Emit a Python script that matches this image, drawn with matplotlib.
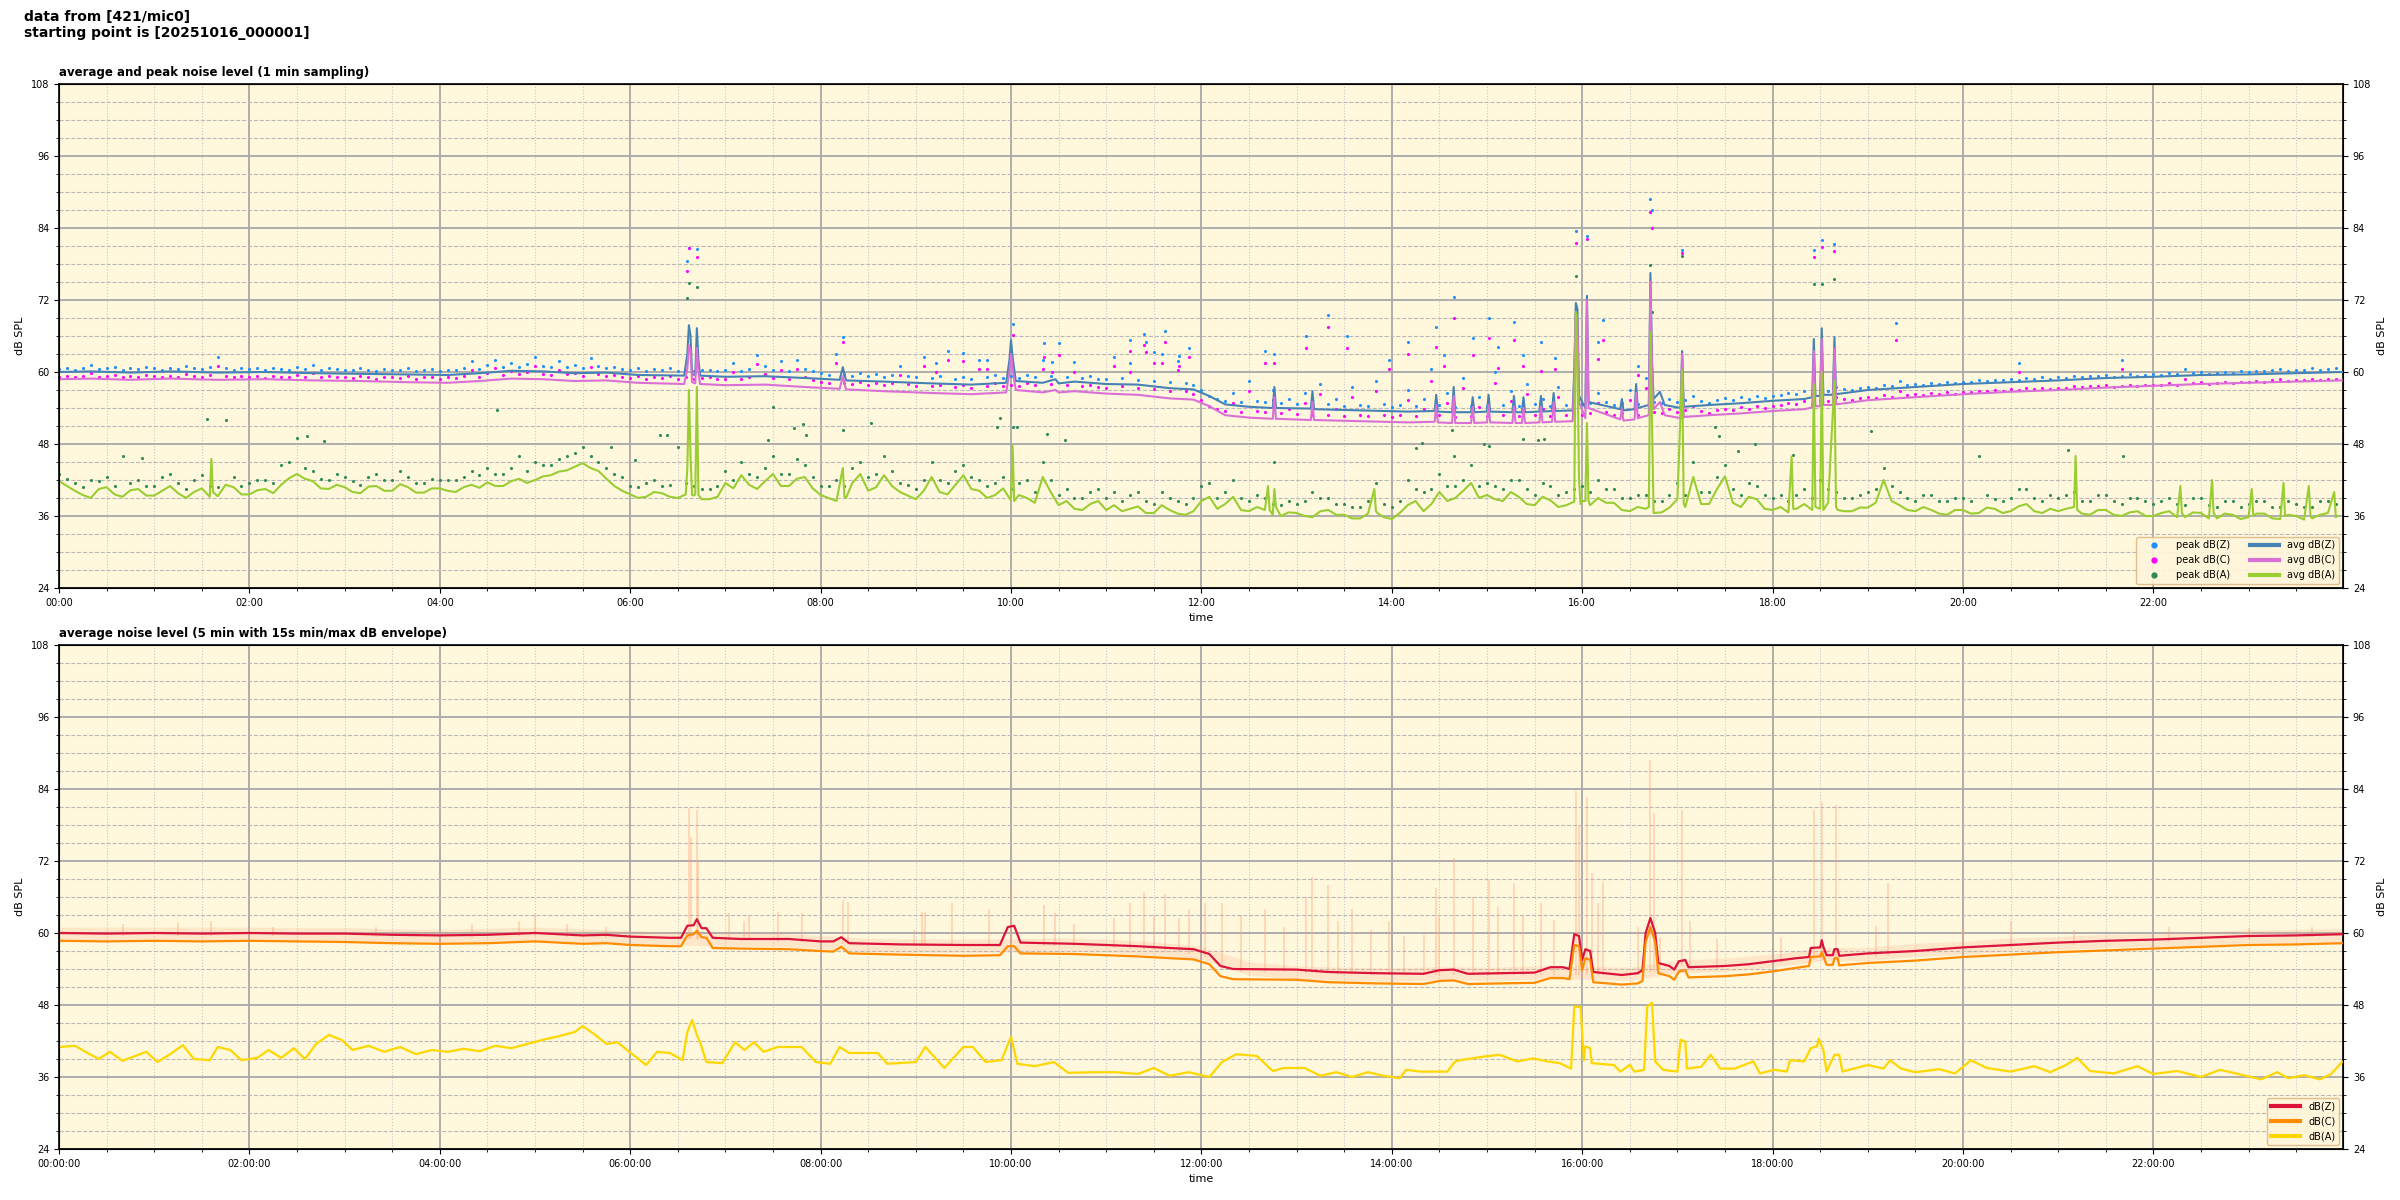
import datetime as dt
import numpy as np
import matplotlib
matplotlib.use('Agg')
import matplotlib.pyplot as plt
import matplotlib.dates as mdates
from matplotlib.ticker import MultipleLocator
from matplotlib.lines import Line2D

plt.rcParams['font.family'] = ['Liberation Sans Narrow', 'DejaVu Sans']

day0 = dt.datetime(2025, 10, 16)

# ---------------- top panel: 1 min averages (minutes from midnight) ----------
top_min = [0, 20, 45, 70, 100, 130, 160, 190, 220, 245,
           265, 285, 305, 325, 345, 365, 394, 396, 397, 398,
           399, 401, 402, 403, 404, 420, 445, 470, 492, 494,
           496, 520, 550, 575, 597, 599, 600, 601, 603, 620,
           628, 630, 640, 660, 680, 700, 715, 725, 735, 750,
           765, 766, 767, 789, 790, 791, 820, 850, 867, 868,
           869, 878, 879, 880, 890, 891, 892, 900, 901, 902,
           916, 917, 918, 922, 923, 924, 933, 934, 935, 941,
           942, 943, 954, 955, 956, 957, 958, 962, 963, 964,
           984, 985, 986, 993, 994, 995, 1002, 1003, 1004, 1005,
           1009, 1012, 1022, 1023, 1024, 1040, 1060, 1080, 1100, 1105,
           1106, 1107, 1110, 1111, 1112, 1118, 1119, 1120, 1140, 1170,
           1200, 1230, 1260, 1290, 1320, 1350, 1380, 1410, 1439]
avg_z = [60.0, 60.1, 59.9, 60.1, 59.9, 60.0, 59.8, 59.7, 59.6, 59.5,
         59.8, 60.2, 60.1, 59.8, 59.9, 59.5, 59.4, 63.0, 67.8, 66.0,
         59.6, 59.5, 67.3, 62.0, 59.4, 59.2, 59.3, 59.0, 58.7, 60.8,
         58.6, 58.4, 58.1, 57.9, 58.2, 62.0, 65.3, 62.5, 58.5, 58.2,
         58.8, 58.1, 58.4, 58.0, 57.9, 57.3, 57.1, 56.0, 54.6, 54.2,
         54.0, 57.5, 54.0, 53.9, 56.8, 53.8, 53.6, 53.4, 53.5, 56.2,
         53.4, 53.3, 57.5, 53.3, 53.3, 55.8, 53.3, 53.4, 56.2, 53.4,
         53.3, 56.0, 53.3, 53.3, 55.8, 53.3, 53.4, 56.0, 53.4, 53.5,
         56.5, 53.5, 53.6, 60.0, 71.5, 70.5, 56.0, 54.0, 72.7, 55.0,
         53.8, 55.5, 53.6, 53.8, 58.0, 54.0, 54.5, 76.5, 62.0, 55.5,
         56.7, 54.5, 54.0, 63.5, 54.2, 54.5, 54.8, 55.2, 55.5, 55.8,
         65.5, 56.0, 56.0, 67.3, 56.2, 56.2, 65.8, 56.3, 57.0, 57.5,
         58.0, 58.3, 58.6, 59.0, 59.2, 59.5, 59.6, 59.8, 60.0]
avg_c = [58.8, 58.9, 58.7, 58.9, 58.7, 58.8, 58.6, 58.5, 58.3, 58.2,
         58.5, 58.9, 58.8, 58.5, 58.6, 58.2, 58.0, 60.5, 64.5, 63.5,
         58.3, 58.1, 64.0, 60.0, 58.0, 57.8, 57.9, 57.5, 57.2, 59.3,
         57.1, 56.8, 56.5, 56.3, 56.6, 60.0, 63.0, 60.5, 57.0, 56.6,
         57.0, 56.6, 56.8, 56.4, 56.2, 55.6, 55.4, 54.3, 52.8, 52.4,
         52.2, 55.8, 52.2, 52.0, 55.0, 52.0, 51.8, 51.6, 51.7, 54.5,
         51.6, 51.5, 56.0, 51.5, 51.5, 54.2, 51.5, 51.6, 54.5, 51.6,
         51.5, 54.3, 51.5, 51.5, 54.0, 51.5, 51.6, 54.3, 51.6, 51.7,
         55.0, 51.7, 51.8, 59.0, 70.0, 69.0, 55.0, 52.3, 72.0, 54.0,
         52.1, 53.8, 51.9, 52.1, 56.5, 52.3, 52.8, 75.0, 61.0, 53.8,
         55.0, 52.8, 52.3, 63.0, 52.5, 52.8, 53.1, 53.5, 53.8, 54.1,
         63.5, 54.3, 54.3, 65.5, 54.5, 54.5, 64.0, 54.6, 55.3, 55.8,
         56.3, 56.7, 57.0, 57.4, 57.7, 58.0, 58.2, 58.4, 58.6]

# avg dB(A), one value every 5 minutes (one row per hour)
avg_a = [41.8, 41.0, 40.2, 39.5, 39.0, 40.5, 40.8, 39.6, 39.2, 40.3, 40.5, 39.4,
         39.4, 40.2, 41.0, 39.8, 39.0, 40.0, 40.6, 39.2, 39.3, 41.2, 40.8, 39.6,
         39.6, 40.3, 40.5, 39.8, 41.2, 42.3, 43.0, 42.2, 41.8, 40.6, 40.5, 41.2,
         40.8, 40.0, 39.8, 40.9, 41.0, 40.2, 40.2, 41.3, 40.8, 39.9, 39.9, 40.6,
         40.6, 40.2, 40.0, 40.8, 41.2, 40.7, 41.6, 41.0, 41.0, 41.8, 42.2, 41.5,
         42.0, 42.6, 42.8, 43.4, 43.6, 44.2, 44.8, 44.0, 43.5, 42.2, 41.0, 40.2,
         39.6, 39.0, 39.2, 40.0, 39.8, 39.2, 39.0, 39.6, 39.4, 38.8, 38.8, 39.2,
         41.5, 40.6, 42.8, 41.2, 40.5, 41.8, 43.0, 41.0, 41.0, 42.2, 42.5, 40.6,
         39.5, 39.0, 38.5, 39.2, 41.5, 43.0, 40.2, 40.8, 42.8, 41.0, 40.0, 39.4,
         38.8, 40.2, 42.5, 40.0, 39.6, 41.2, 42.8, 40.5, 40.2, 39.0, 39.5, 40.6,
         38.6, 39.5, 39.0, 38.2, 42.5, 40.0, 37.8, 38.5, 37.2, 37.0, 38.0, 38.5,
         37.0, 37.8, 36.8, 37.2, 37.6, 36.5, 36.5, 37.8, 37.0, 36.4, 36.2, 36.8,
         38.5, 39.2, 37.2, 38.0, 39.2, 37.0, 36.8, 37.5, 37.0, 36.2, 36.0, 36.6,
         36.5, 36.0, 35.8, 36.8, 37.0, 36.2, 36.2, 35.6, 35.6, 36.4, 36.8, 35.8,
         35.5, 36.5, 37.8, 38.5, 36.8, 38.0, 40.0, 38.5, 39.0, 40.2, 41.5, 39.0,
         39.5, 38.8, 38.5, 40.0, 39.2, 38.0, 37.8, 39.2, 38.6, 37.5, 37.8, 38.4,
         38.5, 37.8, 39.0, 38.2, 38.2, 37.0, 36.8, 37.5, 37.2, 36.5, 36.6, 37.4,
         38.8, 37.5, 42.5, 38.0, 38.0, 40.5, 42.6, 38.2, 37.5, 39.2, 38.8, 37.2,
         37.0, 37.5, 36.6, 37.2, 38.0, 37.0, 37.2, 38.2, 37.5, 36.8, 36.8, 37.4,
         37.4, 38.2, 42.0, 38.5, 37.8, 37.0, 36.8, 37.5, 37.0, 36.4, 36.2, 37.0,
         37.0, 36.4, 36.5, 37.4, 37.2, 36.5, 36.8, 37.6, 38.0, 36.8, 36.5, 37.2,
         36.8, 37.2, 37.5, 36.4, 36.2, 37.0, 37.0, 36.2, 36.0, 36.6, 36.8, 36.0,
         36.0, 36.5, 36.8, 35.8, 35.8, 36.6, 36.5, 35.6, 35.6, 36.4, 36.2, 35.5,
         35.8, 36.4, 36.4, 35.6, 35.5, 36.2, 36.0, 35.4, 35.6, 36.2, 36.5, 35.8]
# short events in avg dB(A) between the 5 min values
a_spk_min = [96, 97, 396, 397, 398, 399, 401, 402, 403, 494,
             496, 601, 602, 762, 763, 766, 767, 829, 831, 956,
             957, 958, 959, 962, 963, 964, 1002, 1003, 1004, 1023,
             1024, 1092, 1093, 1106, 1107, 1111, 1112, 1119, 1121, 1271,
             1272, 1337, 1338, 1357, 1358, 1382, 1383, 1402, 1403, 1418,
             1419, 1434, 1436]
a_spk_db = [45.5, 40.0, 44.0, 57.0, 46.0, 39.5, 39.6, 57.5, 39.5, 44.0,
            39.0, 47.7, 38.5, 41.0, 37.0, 40.5, 37.5, 40.5, 36.5, 70.0,
            62.0, 42.0, 38.0, 38.5, 51.5, 38.5, 37.5, 66.7, 52.0, 60.3,
            38.0, 45.9, 37.2, 58.0, 37.5, 60.0, 37.0, 58.5, 37.0, 46.0,
            37.0, 41.0, 36.5, 42.0, 36.5, 40.5, 36.0, 41.5, 36.0, 41.0,
            36.0, 40.0, 36.0]

# peak values, one every 5 minutes (one row per hour)
peak_z = [60.5, 60.7, 60.4, 60.6, 61.2, 60.5, 60.6, 60.8, 60.4, 60.6, 60.5, 60.9,
          60.6, 60.4, 60.7, 60.5, 61.0, 60.6, 60.5, 60.8, 62.5, 60.6, 60.4, 60.7,
          60.5, 60.6, 60.3, 60.7, 60.5, 60.4, 60.8, 60.5, 61.2, 60.4, 60.6, 60.5,
          60.4, 60.3, 60.6, 60.4, 60.2, 60.5, 60.4, 60.3, 60.6, 60.2, 60.4, 60.5,
          60.2, 60.4, 60.3, 60.6, 61.8, 60.5, 61.2, 62.0, 60.8, 61.5, 60.9, 61.3,
          62.5, 61.0, 60.8, 61.8, 60.9, 61.2, 60.7, 62.3, 61.0, 60.6, 60.8, 60.5,
          60.4, 60.6, 60.2, 60.5, 60.3, 60.6, 60.2, 60.4, 60.1, 60.3, 60.4, 60.2,
          60.3, 61.5, 60.2, 60.5, 62.8, 61.0, 60.4, 61.8, 60.2, 62.0, 60.5, 60.1,
          59.8, 59.5, 63.0, 59.6, 59.4, 59.8, 59.3, 59.6, 59.2, 59.5, 61.0, 59.4,
          59.1, 62.5, 59.0, 59.3, 63.5, 58.9, 59.2, 58.8, 62.0, 59.1, 59.5, 59.0,
          59.3, 59.0, 59.5, 59.2, 62.0, 59.4, 64.8, 59.2, 61.7, 59.0, 59.3, 58.9,
          58.8, 62.5, 59.0, 61.5, 58.7, 65.0, 58.5, 63.0, 58.3, 61.8, 58.2, 57.8,
          57.0, 56.0, 55.5, 55.2, 56.5, 55.0, 58.5, 55.2, 55.0, 57.0, 54.8, 55.5,
          54.7, 56.5, 54.5, 58.0, 54.6, 55.5, 54.4, 57.5, 54.5, 54.3, 58.5, 54.6,
          54.2, 54.5, 57.0, 54.3, 55.5, 60.5, 54.5, 56.5, 54.2, 59.0, 54.4, 55.8,
          54.3, 60.0, 54.5, 56.8, 54.3, 58.0, 54.6, 55.5, 54.4, 57.5, 54.5, 55.0,
          54.6, 54.8, 56.5, 55.0, 54.5, 54.8, 57.0, 54.6, 59.0, 55.0, 54.8, 55.5,
          55.0, 55.3, 56.0, 55.2, 54.9, 55.4, 55.6, 55.3, 55.8, 55.5, 56.0, 55.7,
          56.0, 56.2, 56.5, 56.3, 56.8, 56.4, 57.0, 56.8, 57.5, 57.2, 57.0, 57.3,
          57.5, 57.4, 57.8, 57.6, 58.5, 57.8, 58.0, 57.9, 58.2, 58.0, 58.3, 58.1,
          58.4, 58.3, 58.6, 58.5, 58.7, 58.6, 58.8, 58.7, 59.0, 58.8, 59.1, 58.9,
          59.1, 59.0, 59.3, 59.2, 59.4, 59.3, 59.5, 59.2, 59.4, 59.6, 59.3, 59.5,
          59.6, 59.5, 59.8, 59.6, 60.5, 59.8, 60.0, 59.7, 59.9, 60.0, 59.8, 60.1,
          60.0, 60.2, 60.1, 60.3, 60.5, 60.2, 60.4, 60.3, 60.6, 60.4, 60.5, 60.6]
peak_c = [59.2, 59.4, 59.1, 59.3, 59.8, 59.2, 59.3, 59.5, 59.1, 59.3, 59.2, 59.5,
          59.3, 59.1, 59.4, 59.2, 59.6, 59.3, 59.2, 59.5, 61.0, 59.3, 59.1, 59.4,
          59.2, 59.3, 59.0, 59.4, 59.2, 59.1, 59.5, 59.2, 59.8, 59.1, 59.3, 59.2,
          59.1, 59.0, 59.3, 59.1, 58.9, 59.2, 59.1, 59.0, 59.3, 58.9, 59.1, 59.2,
          58.9, 59.1, 59.0, 59.3, 60.4, 59.2, 59.8, 60.6, 59.5, 60.2, 59.6, 60.0,
          61.0, 59.7, 59.5, 60.4, 59.6, 59.9, 59.4, 60.9, 59.7, 59.3, 59.5, 59.2,
          59.0, 59.3, 58.9, 59.2, 59.0, 59.3, 58.9, 59.1, 58.8, 59.0, 59.1, 58.9,
          58.9, 60.0, 58.8, 59.1, 61.3, 59.6, 59.0, 60.4, 58.8, 60.5, 59.1, 58.7,
          58.4, 58.1, 61.5, 58.2, 58.0, 58.4, 57.9, 58.2, 57.8, 58.1, 59.5, 58.0,
          57.7, 61.0, 57.6, 57.9, 62.0, 57.5, 57.8, 57.4, 60.5, 57.7, 58.1, 57.6,
          57.9, 57.6, 58.1, 57.8, 60.5, 58.0, 62.8, 57.8, 60.0, 57.6, 57.9, 57.5,
          57.4, 61.0, 57.6, 60.0, 57.3, 63.3, 57.1, 61.5, 56.9, 60.3, 56.8, 56.3,
          55.4, 54.3, 53.8, 53.5, 54.8, 53.3, 56.8, 53.5, 53.3, 55.3, 53.1, 53.8,
          53.0, 54.8, 52.8, 56.3, 52.9, 53.8, 52.7, 55.8, 52.8, 52.6, 56.8, 52.9,
          52.5, 52.8, 55.3, 52.6, 53.8, 58.5, 52.8, 54.8, 52.5, 57.3, 52.7, 54.1,
          52.6, 58.2, 52.8, 55.1, 52.6, 56.3, 52.9, 53.8, 52.7, 55.8, 52.8, 53.3,
          52.9, 53.1, 54.8, 53.3, 52.8, 53.1, 55.3, 52.9, 57.3, 53.3, 53.1, 53.8,
          53.3, 53.6, 54.3, 53.5, 53.2, 53.7, 53.9, 53.6, 54.1, 53.8, 54.3, 54.0,
          54.3, 54.5, 54.8, 54.6, 55.1, 54.7, 55.3, 55.1, 55.8, 55.5, 55.3, 55.6,
          55.8, 55.7, 56.1, 55.9, 56.8, 56.1, 56.3, 56.2, 56.5, 56.3, 56.6, 56.4,
          56.7, 56.6, 56.9, 56.8, 57.0, 56.9, 57.1, 57.0, 57.3, 57.1, 57.4, 57.2,
          57.4, 57.3, 57.6, 57.5, 57.7, 57.6, 57.8, 57.5, 57.7, 57.9, 57.6, 57.8,
          57.9, 57.8, 58.1, 57.9, 58.8, 58.1, 58.3, 58.0, 58.2, 58.3, 58.1, 58.4,
          58.3, 58.5, 58.4, 58.6, 58.8, 58.5, 58.7, 58.6, 58.9, 58.7, 58.8, 58.9]
peak_a = [43.0, 42.2, 41.5, 40.8, 42.0, 41.8, 42.5, 41.0, 46.0, 41.5, 42.0, 41.0,
          41.0, 42.5, 43.0, 41.5, 40.5, 42.0, 42.8, 41.0, 40.8, 52.0, 42.5, 41.0,
          41.5, 42.0, 42.0, 41.5, 44.5, 45.0, 49.0, 44.0, 43.5, 42.2, 42.0, 43.0,
          42.5, 41.8, 41.2, 42.5, 43.0, 42.0, 42.0, 43.5, 42.5, 41.5, 41.5, 42.2,
          42.0, 42.0, 42.0, 42.5, 43.5, 42.8, 44.0, 43.0, 43.0, 44.0, 46.0, 43.5,
          45.0, 44.5, 44.5, 45.5, 46.0, 46.5, 47.5, 46.0, 45.0, 44.0, 43.0, 42.5,
          41.0, 40.8, 41.5, 42.0, 41.0, 41.2, 47.5, 41.5, 41.0, 40.5, 40.5, 41.0,
          43.5, 42.0, 45.0, 43.0, 42.5, 44.0, 46.0, 43.0, 43.0, 45.5, 44.5, 42.5,
          41.0, 41.0, 42.0, 41.0, 44.0, 45.0, 42.5, 43.0, 46.0, 43.5, 41.5, 41.2,
          40.5, 42.0, 45.0, 42.0, 41.5, 43.5, 44.5, 42.5, 42.0, 41.0, 41.5, 42.5,
          40.5, 41.5, 42.0, 40.0, 45.0, 42.0, 39.5, 40.5, 39.0, 39.0, 40.0, 40.5,
          39.0, 40.0, 38.5, 39.5, 40.0, 38.5, 38.0, 40.0, 39.0, 38.5, 38.0, 39.0,
          41.0, 41.5, 39.0, 40.0, 42.0, 39.0, 38.5, 39.5, 39.0, 38.0, 37.8, 38.5,
          38.0, 38.5, 40.0, 39.0, 39.0, 38.0, 38.0, 37.5, 37.5, 38.5, 41.5, 38.0,
          37.5, 38.5, 42.0, 40.5, 40.0, 40.5, 43.0, 41.0, 41.0, 42.0, 44.5, 41.0,
          41.5, 41.0, 40.5, 42.0, 42.0, 40.5, 39.5, 41.5, 41.0, 39.5, 40.0, 40.5,
          41.0, 40.0, 42.0, 40.5, 40.5, 39.0, 39.0, 39.5, 39.5, 38.5, 38.5, 39.5,
          41.5, 39.5, 45.0, 40.0, 40.0, 42.5, 44.5, 40.5, 39.5, 41.5, 41.0, 39.5,
          39.0, 39.5, 38.5, 39.5, 40.5, 39.0, 42.0, 40.5, 40.0, 39.0, 39.0, 39.5,
          40.0, 40.5, 44.0, 41.0, 40.0, 39.0, 38.5, 39.5, 39.5, 38.5, 38.5, 39.0,
          39.0, 38.5, 46.0, 39.5, 38.8, 38.5, 39.0, 40.5, 40.5, 39.0, 38.5, 39.5,
          39.0, 39.5, 40.0, 38.5, 38.5, 39.5, 39.5, 38.5, 38.0, 39.0, 39.0, 38.5,
          38.0, 38.5, 39.0, 38.0, 37.8, 39.0, 39.0, 37.8, 37.5, 38.5, 38.5, 37.5,
          38.0, 38.5, 38.5, 37.5, 37.5, 38.5, 38.0, 37.5, 37.5, 38.5, 38.5, 38.0]
# peaks at loud events
pk_spk_min = [396, 397, 402, 494, 601, 766, 879, 956, 963, 1003, 1004, 1023, 1106, 1111, 1119]
pz_spk = [78.5, 80.7, 80.5, 65.8, 68.0, 63.0, 72.5, 83.5, 82.7, 88.8, 87.0, 80.3, 80.3, 82.0, 81.3]
pc_spk = [76.8, 80.7, 79.2, 65.0, 66.2, 61.5, 69.0, 81.5, 82.2, 86.7, 84.0, 79.8, 79.2, 80.8, 80.2]
pa_spk = [72.3, 74.8, 74.2, 50.3, 50.8, 45.0, 46.0, 76.0, 60.0, 77.8, 70.0, 79.3, 74.7, 74.7, 75.5]
# other isolated peaks
ext_min = [553, 570, 585, 621, 626, 675, 684, 690, 697, 706, 712, 760, 786, 800, 812, 838,
           850, 868, 873, 891, 901, 907, 917, 923, 934, 943, 970, 973, 995, 1158, 1235, 1300]
ext_z = [61.5, 63.2, 62.0, 64.8, 61.7, 65.4, 66.4, 63.3, 66.9, 62.6, 64.0, 63.5, 66.0, 69.5, 66.0, 62.0,
         65.0, 67.5, 62.8, 65.7, 69.0, 64.2, 68.3, 62.8, 65.0, 62.3, 65.0, 68.7, 61.0, 68.2, 61.5, 62.0]
ext_c = [60.0, 61.8, 60.5, 62.5, 60.0, 63.5, 64.5, 61.5, 65.0, 61.0, 62.5, 61.5, 64.0, 67.5, 64.0, 60.5,
         63.0, 64.2, 61.0, 62.8, 65.7, 60.7, 65.3, 61.0, 60.2, 60.5, 62.1, 65.3, 59.5, 65.3, 60.0, 60.5]
pa_ext_min = [52, 93, 156, 167, 276, 348, 363, 379, 383, 447, 450, 463, 469, 471, 512, 591, 593, 604,
              623, 634, 855, 859, 878, 898, 901, 923, 932, 936, 1044, 1046, 1058, 1069, 1093, 1142, 1266, 1301]
pa_ext = [45.7, 52.1, 49.3, 48.5, 53.7, 47.5, 45.3, 49.5, 49.5, 48.7, 54.2, 50.7, 51.4, 49.5, 51.5, 50.8, 52.4, 50.8,
          49.7, 48.7, 47.3, 48.1, 50.3, 48.0, 47.7, 48.8, 48.6, 48.9, 50.8, 49.4, 46.8, 48.0, 46.2, 50.2, 47.0, 46.0]

# ---------------- bottom panel: 5 min averages ----------------
bot_min = [0, 30, 60, 90, 120, 150, 180, 210, 240, 270,
           290, 300, 315, 330, 345, 360, 385, 392, 396, 400,
           402, 405, 408, 412, 430, 460, 480, 488, 493, 498,
           530, 570, 593, 598, 602, 606, 640, 680, 700, 715,
           725, 732, 740, 780, 800, 830, 860, 870, 879, 888,
           930, 940, 948, 952, 955, 958, 960, 962, 965, 967,
           985, 995, 998, 1000, 1003, 1006, 1008, 1015, 1018, 1021,
           1025, 1027, 1050, 1065, 1080, 1095, 1103, 1104, 1110, 1111,
           1112, 1114, 1118, 1119, 1121, 1122, 1140, 1170, 1200, 1230,
           1260, 1290, 1320, 1350, 1380, 1410, 1439]
bot_z = [60.0, 59.9, 60.0, 59.9, 60.0, 59.9, 59.9, 59.7, 59.6, 59.7,
         59.9, 60.0, 59.8, 59.6, 59.7, 59.4, 59.2, 59.2, 61.2, 61.3,
         62.3, 60.8, 60.8, 59.2, 59.0, 59.0, 58.6, 58.6, 59.3, 58.3,
         58.1, 58.0, 58.0, 61.0, 61.2, 58.4, 58.2, 57.8, 57.5, 57.3,
         56.5, 54.5, 54.0, 53.9, 53.5, 53.3, 53.2, 53.8, 53.9, 53.2,
         53.4, 54.3, 54.3, 54.0, 59.8, 59.5, 55.5, 57.3, 57.0, 53.5,
         53.0, 53.3, 53.8, 60.0, 62.5, 60.0, 55.0, 54.5, 53.9, 55.3,
         55.5, 54.3, 54.5, 54.8, 55.3, 55.8, 56.0, 57.5, 57.6, 58.8,
         57.7, 56.3, 56.3, 57.3, 57.3, 56.2, 56.6, 57.0, 57.6, 58.0,
         58.4, 58.7, 58.9, 59.2, 59.5, 59.6, 59.8]
bot_c = [58.7, 58.6, 58.7, 58.6, 58.7, 58.6, 58.5, 58.3, 58.2, 58.3,
         58.5, 58.6, 58.4, 58.2, 58.3, 58.0, 57.8, 57.8, 59.6, 59.8,
         60.4, 59.3, 59.2, 57.5, 57.4, 57.3, 57.0, 56.9, 57.7, 56.6,
         56.4, 56.2, 56.3, 57.8, 57.8, 56.6, 56.5, 56.1, 55.8, 55.6,
         54.8, 52.8, 52.3, 52.2, 51.8, 51.6, 51.5, 52.0, 52.1, 51.5,
         51.7, 52.5, 52.5, 52.3, 58.0, 57.8, 53.8, 55.8, 55.5, 51.8,
         51.4, 51.6, 52.0, 58.5, 61.0, 58.5, 53.3, 52.8, 52.2, 53.6,
         53.8, 52.6, 52.8, 53.1, 53.6, 54.2, 54.5, 56.0, 56.1, 56.8,
         56.2, 54.7, 54.7, 55.8, 55.8, 54.6, 55.0, 55.4, 56.0, 56.4,
         56.8, 57.1, 57.4, 57.7, 58.0, 58.1, 58.3]
ba_min = [0, 10, 18, 25, 32, 40, 48, 55, 62, 70,
          78, 85, 95, 100, 108, 115, 125, 132, 140, 148,
          155, 162, 170, 178, 185, 195, 205, 215, 225, 235,
          245, 255, 265, 275, 285, 295, 305, 315, 325, 330,
          338, 345, 352, 358, 370, 377, 385, 393, 396, 399,
          402, 404, 408, 418, 426, 432, 438, 444, 453, 468,
          477, 486, 492, 498, 516, 522, 540, 546, 558, 570,
          576, 584, 594, 600, 604, 615, 627, 636, 653, 666,
          680, 690, 700, 712, 725, 733, 742, 755, 765, 772,
          785, 795, 805, 815, 825, 835, 845, 849, 858, 875,
          880, 883, 898, 908, 919, 929, 938, 946, 953, 955,
          959, 961, 962, 965, 966, 980, 984, 990, 993, 999,
          1001, 1004, 1006, 1011, 1020, 1022, 1025, 1026, 1035, 1041,
          1047, 1056, 1068, 1072, 1081, 1089, 1091, 1100, 1104, 1108,
          1109, 1112, 1114, 1119, 1122, 1124, 1131, 1140, 1150, 1154,
          1161, 1170, 1185, 1195, 1205, 1215, 1230, 1245, 1255, 1265,
          1272, 1280, 1295, 1310, 1320, 1335, 1350, 1362, 1375, 1388,
          1398, 1405, 1415, 1425, 1432, 1439]
ba_db = [41.0, 41.2, 40.0, 39.0, 40.2, 38.7, 39.5, 40.2, 38.5, 39.8,
         41.3, 39.0, 38.8, 41.0, 40.5, 38.8, 39.2, 40.5, 39.2, 40.8,
         39.0, 41.5, 43.0, 42.2, 40.5, 41.2, 40.2, 41.0, 39.8, 40.5,
         40.2, 40.7, 40.3, 41.2, 40.8, 41.5, 42.2, 42.8, 43.5, 44.5,
         43.0, 41.5, 41.8, 40.5, 38.0, 40.2, 40.0, 38.8, 43.5, 45.5,
         43.0, 41.8, 38.5, 38.3, 41.8, 40.5, 41.8, 40.2, 41.0, 41.0,
         38.5, 38.2, 41.0, 40.0, 40.0, 38.2, 38.5, 41.0, 37.5, 41.0,
         41.0, 38.5, 38.8, 42.7, 38.2, 37.8, 38.5, 36.7, 36.8, 36.8,
         36.5, 37.5, 36.2, 36.8, 36.0, 38.5, 39.8, 39.5, 37.0, 37.5,
         37.5, 36.2, 36.8, 36.0, 36.8, 36.2, 35.8, 37.2, 36.9, 36.9,
         38.6, 38.8, 39.4, 39.7, 38.6, 39.1, 38.6, 38.3, 37.4, 47.7,
         47.7, 38.8, 41.1, 40.8, 38.3, 38.0, 36.9, 38.0, 36.9, 37.2,
         47.7, 48.4, 38.6, 37.2, 36.9, 42.2, 41.9, 37.4, 37.7, 39.7,
         37.4, 37.4, 38.6, 36.6, 37.2, 36.9, 38.8, 38.6, 40.8, 41.1,
         42.4, 40.5, 36.9, 39.7, 39.7, 36.9, 37.4, 38.0, 37.4, 38.8,
         37.4, 36.8, 37.3, 36.6, 38.8, 37.5, 36.9, 37.8, 36.8, 38.0,
         39.2, 37.0, 36.6, 37.8, 36.5, 37.0, 36.0, 37.2, 36.4, 35.6,
         36.8, 35.8, 36.3, 35.6, 36.5, 38.5]

# 15 s min/max envelope of dB(Z), every 30 minutes
env_lo = [58.8, 58.8, 58.8, 58.8, 58.8, 58.7, 58.7, 58.5, 58.4, 58.6, 58.8, 58.5,
          58.2, 58.0, 57.8, 57.8, 57.4, 56.9, 56.8, 56.8, 56.8, 57.0, 56.8, 56.3,
          55.6, 53.0, 52.3, 52.1, 52.0, 52.2, 52.1, 52.3, 52.3, 52.1, 53.3, 53.6,
          54.3, 55.3, 55.4, 56.1, 56.4, 57.0, 57.2, 57.6, 57.7, 58.0, 58.3, 58.4, 58.6]
env_hi = [61.0, 61.0, 61.0, 61.0, 61.0, 60.9, 60.9, 60.7, 60.6, 60.8, 61.0, 60.7,
          60.4, 60.2, 60.0, 60.0, 59.6, 59.1, 59.0, 59.0, 59.0, 59.2, 59.0, 58.5,
          57.8, 55.2, 54.5, 54.3, 54.2, 54.4, 54.3, 54.5, 54.5, 54.3, 55.5, 55.8,
          56.5, 57.5, 57.6, 58.3, 58.6, 59.2, 59.4, 59.8, 59.9, 60.2, 60.5, 60.6, 60.8]
# single 15 s maxima sticking out of the envelope
spk_min = [40, 75, 96, 135, 200, 260, 290, 300, 320, 345,
           397, 398, 402, 403, 422, 432, 435, 453, 468, 494,
           497, 539, 544, 546, 563, 586, 600, 621, 628, 640,
           665, 675, 684, 690, 697, 706, 712, 722, 733, 745,
           760, 772, 786, 790, 800, 806, 815, 827, 838, 848,
           860, 868, 870, 879, 891, 901, 907, 917, 923, 934,
           942, 956, 958, 963, 966, 970, 973, 995, 1003, 1005,
           1009, 1023, 1028, 1045, 1085, 1106, 1111, 1120, 1145, 1153,
           1200, 1230, 1270, 1330, 1380, 1420]
spk_hi = [61.5, 61.8, 62.0, 61.0, 61.0, 61.5, 62.0, 63.2, 61.5, 61.0,
          80.8, 76.0, 80.5, 72.0, 63.3, 62.0, 63.0, 63.5, 63.3, 65.5,
          65.2, 60.5, 63.5, 63.5, 65.0, 64.0, 68.0, 64.7, 63.3, 61.5,
          62.5, 65.0, 66.8, 63.0, 66.5, 62.5, 64.0, 65.0, 65.0, 63.0,
          64.0, 61.0, 66.0, 69.3, 68.0, 62.0, 64.0, 60.5, 62.0, 59.5,
          59.7, 67.5, 62.7, 72.5, 66.0, 68.8, 64.4, 68.3, 63.0, 65.0,
          62.2, 83.6, 78.0, 82.7, 70.0, 65.0, 68.6, 61.0, 88.8, 80.0,
          59.4, 80.5, 62.0, 59.0, 59.4, 80.5, 81.9, 81.3, 61.2, 68.3,
          61.0, 62.0, 60.5, 61.0, 60.8, 61.0]
spk_lo = [59.5, 59.5, 59.5, 59.5, 59.4, 59.2, 59.5, 59.5, 59.4, 59.2,
          59.0, 59.0, 59.0, 59.0, 58.8, 58.8, 58.8, 58.5, 58.5, 58.2,
          58.2, 57.8, 57.8, 57.8, 57.8, 57.8, 58.0, 57.8, 57.8, 57.8,
          57.5, 57.4, 57.2, 57.2, 57.0, 57.0, 56.5, 56.0, 54.0, 53.5,
          53.5, 53.5, 53.3, 53.3, 53.3, 53.2, 53.2, 53.0, 53.0, 53.0,
          53.0, 53.0, 53.0, 53.0, 53.0, 53.0, 53.0, 53.0, 53.0, 53.0,
          53.0, 53.0, 53.0, 53.0, 53.0, 53.0, 53.0, 53.0, 53.5, 53.5,
          54.0, 54.5, 54.0, 54.0, 55.0, 55.5, 55.5, 55.5, 56.0, 56.2,
          57.0, 57.5, 58.0, 58.5, 59.0, 59.3]


def tx(m):
    # minutes from midnight -> matplotlib date numbers
    return mdates.date2num(day0) + np.asarray(m, dtype=float) / 1440.0


grid5 = np.arange(len(avg_a)) * 5
grid30 = np.arange(len(env_lo)) * 30

# merge the 5 min dB(A) values with the short events
a_t = np.concatenate([grid5, a_spk_min])
a_v = np.concatenate([avg_a, a_spk_db])
order = np.argsort(a_t, kind='stable')
a_t, a_v = a_t[order], a_v[order]

BG = '#fff8dc'
TXT = 'DejaVu Sans'


def style(ax, fmt):
    ax.set_facecolor(BG)
    ax.set_xlim(tx(0), tx(1439.6))
    ax.set_ylim(24, 108)
    ax.yaxis.set_major_locator(MultipleLocator(12))
    ax.yaxis.set_minor_locator(MultipleLocator(3))
    ax.xaxis.set_major_locator(mdates.HourLocator(byhour=range(0, 24, 2)))
    ax.xaxis.set_minor_locator(mdates.MinuteLocator(byminute=[0, 30]))
    ax.xaxis.set_major_formatter(mdates.DateFormatter(fmt))
    ax.grid(which='major', color='#a8a8a8', lw=1.3, ls='-')
    ax.grid(which='minor', axis='y', color='#b8b8b8', lw=0.8, ls='--')
    ax.grid(which='minor', axis='x', color='#c8c8c8', lw=0.8, ls=':')
    ax.set_axisbelow(True)
    ax.tick_params(labelsize=7)
    ax.set_ylabel('dB SPL', fontsize=8, family=TXT)
    ax.set_xlabel('time', fontsize=8, family=TXT)
    for s in ax.spines.values():
        s.set_linewidth(1.2)
    tw = ax.twinx()
    tw.set_ylim(24, 108)
    tw.yaxis.set_major_locator(MultipleLocator(12))
    tw.yaxis.set_minor_locator(MultipleLocator(3))
    tw.tick_params(labelsize=7)
    tw.set_ylabel('dB SPL', fontsize=8, family=TXT)


fig = plt.figure(figsize=(24, 12), dpi=100)
fig.text(0.0098, 0.992, 'data from [421/mic0]\nstarting point is [20251016_000001]',
         fontsize=10, weight='bold', va='top', ha='left', family=TXT)

# ---------------- top ----------------
ax1 = fig.add_axes([0.0246, 0.51, 0.9517, 0.42])
style(ax1, '%H:%M')
ax1.set_title('average and peak noise level (1 min sampling)', loc='left',
              fontsize=8.5, weight='bold', family=TXT)

ms = 5
ax1.scatter(tx(grid5), peak_z, s=ms, color='dodgerblue', lw=0, zorder=2)
ax1.scatter(tx(grid5), peak_c, s=ms, color='magenta', lw=0, zorder=2)
ax1.scatter(tx(grid5), peak_a, s=ms, color='seagreen', lw=0, zorder=2)
ax1.scatter(tx(pk_spk_min), pz_spk, s=ms, color='dodgerblue', lw=0, zorder=2)
ax1.scatter(tx(pk_spk_min), pc_spk, s=ms, color='magenta', lw=0, zorder=2)
ax1.scatter(tx(pk_spk_min), pa_spk, s=ms, color='seagreen', lw=0, zorder=2)
ax1.scatter(tx(ext_min), ext_z, s=ms, color='dodgerblue', lw=0, zorder=2)
ax1.scatter(tx(ext_min), ext_c, s=ms, color='magenta', lw=0, zorder=2)
ax1.scatter(tx(pa_ext_min), pa_ext, s=ms, color='seagreen', lw=0, zorder=2)

ax1.plot(tx(top_min), avg_z, color='steelblue', lw=1.5, zorder=3)
ax1.plot(tx(top_min), avg_c, color='orchid', lw=1.5, zorder=3)
ax1.plot(tx(a_t), a_v, color='yellowgreen', lw=1.5, zorder=3)

h1 = [Line2D([], [], ls='none', marker='o', ms=3.5, color='dodgerblue', label='peak dB(Z)'),
      Line2D([], [], ls='none', marker='o', ms=3.5, color='magenta', label='peak dB(C)'),
      Line2D([], [], ls='none', marker='o', ms=3.5, color='seagreen', label='peak dB(A)'),
      Line2D([], [], color='steelblue', lw=3, label='avg dB(Z)'),
      Line2D([], [], color='orchid', lw=3, label='avg dB(C)'),
      Line2D([], [], color='yellowgreen', lw=3, label='avg dB(A)')]
ax1.legend(handles=h1, ncol=2, loc='lower right', prop={'family': TXT, 'size': 7},
           facecolor='#fff5da', edgecolor='burlywood', framealpha=0.9,
           handlelength=3, columnspacing=2.0, borderaxespad=0.4)

# ---------------- bottom ----------------
ax2 = fig.add_axes([0.0246, 0.0425, 0.9517, 0.42])
style(ax2, '%H:%M:%S')
ax2.set_title('average noise level (5 min with 15s min/max dB envelope)', loc='left',
              fontsize=8.5, weight='bold', family=TXT)

ax2.fill_between(tx(grid30), env_lo, env_hi, color='lightsalmon', alpha=0.2, lw=0, zorder=2)
ax2.vlines(tx(spk_min), spk_lo, spk_hi, color='lightsalmon', alpha=0.4, lw=1.3, zorder=2)
ax2.plot(tx(bot_min), bot_z, color='crimson', lw=1.6, zorder=3)
ax2.plot(tx(bot_min), bot_c, color='darkorange', lw=1.6, zorder=3)
ax2.plot(tx(ba_min), ba_db, color='gold', lw=1.6, zorder=3)

h2 = [Line2D([], [], color='crimson', lw=3, label='dB(Z)'),
      Line2D([], [], color='darkorange', lw=3, label='dB(C)'),
      Line2D([], [], color='gold', lw=3, label='dB(A)')]
ax2.legend(handles=h2, loc='lower right', prop={'family': TXT, 'size': 7},
           facecolor='#fff5da', edgecolor='burlywood', framealpha=0.9,
           handlelength=3, borderaxespad=0.4)

fig.savefig('out.png', dpi=100, facecolor='white')
